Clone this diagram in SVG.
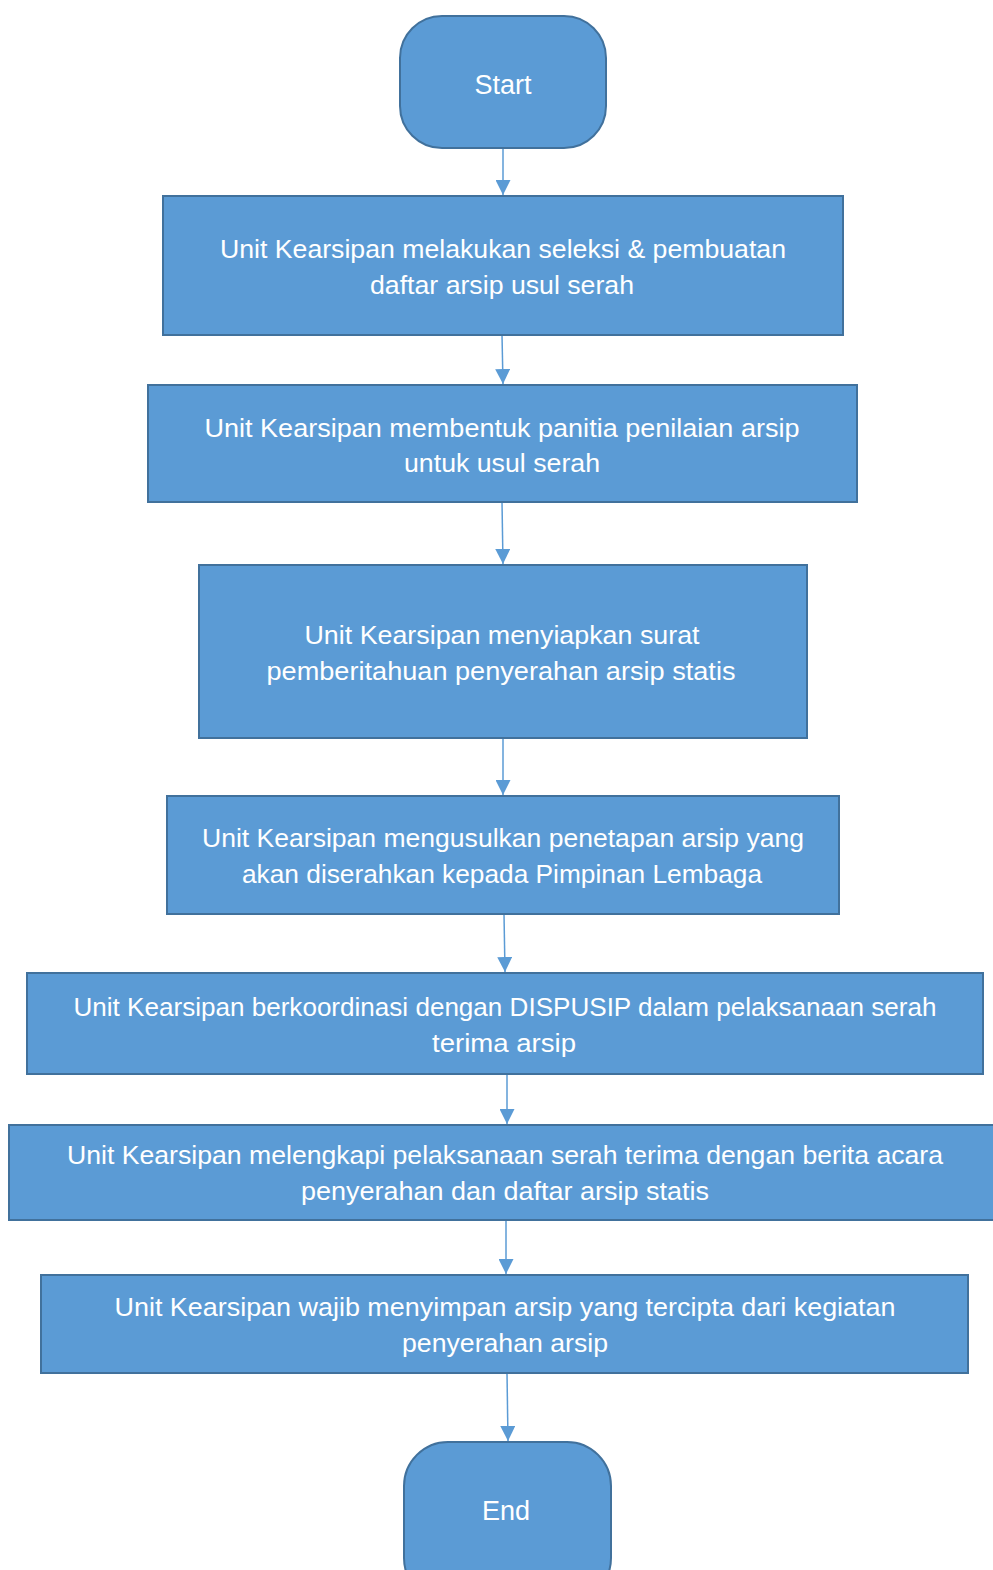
<svg xmlns="http://www.w3.org/2000/svg" width="993" height="1570" viewBox="0 0 993 1570">
<style>
.n{fill:#5B9BD5;stroke:#41719C;stroke-width:2}
.t{fill:#FFFFFF;font-family:"Liberation Sans",Arial,sans-serif;font-size:25px;text-anchor:middle}
.c{stroke:#5B9BD5;stroke-width:1.5;fill:none}
</style>
<defs>
<marker id="ah" viewBox="0 0 10 10" refX="10" refY="5" markerWidth="15" markerHeight="15" markerUnits="userSpaceOnUse" orient="auto">
<path d="M0,0 L10,5 L0,10 Z" fill="#5B9BD5"/>
</marker>
</defs>
<rect width="993" height="1570" fill="#FFFFFF"/>
<g id="connectors">
<line class="c" x1="503" y1="148" x2="503" y2="195" marker-end="url(#ah)"/>
<line class="c" x1="502" y1="335" x2="503" y2="384" marker-end="url(#ah)"/>
<line class="c" x1="502" y1="502" x2="503" y2="564" marker-end="url(#ah)"/>
<line class="c" x1="503" y1="738" x2="503" y2="795" marker-end="url(#ah)"/>
<line class="c" x1="504" y1="914" x2="505" y2="972" marker-end="url(#ah)"/>
<line class="c" x1="507" y1="1074" x2="507" y2="1124" marker-end="url(#ah)"/>
<line class="c" x1="506" y1="1220" x2="506" y2="1274" marker-end="url(#ah)"/>
<line class="c" x1="507" y1="1373" x2="508" y2="1441" marker-end="url(#ah)"/>
</g>
<g id="start">
<rect class="n" x="400" y="16" width="206" height="132" rx="42" ry="42"/>
<text class="t" x="503" y="94" style="font-size:27px">Start</text>
</g>
<g id="step1">
<rect class="n" x="163" y="196" width="680" height="139"/>
<text class="t" x="503" y="258" textLength="566" lengthAdjust="spacingAndGlyphs">Unit Kearsipan melakukan seleksi &amp; pembuatan</text>
<text class="t" x="502" y="294" textLength="264" lengthAdjust="spacingAndGlyphs">daftar arsip usul serah</text>
</g>
<g id="step2">
<rect class="n" x="148" y="385" width="709" height="117"/>
<text class="t" x="502" y="437" textLength="595" lengthAdjust="spacingAndGlyphs">Unit Kearsipan membentuk panitia penilaian arsip</text>
<text class="t" x="502" y="472" textLength="196" lengthAdjust="spacingAndGlyphs">untuk usul serah</text>
</g>
<g id="step3">
<rect class="n" x="199" y="565" width="608" height="173"/>
<text class="t" x="502" y="644" textLength="395" lengthAdjust="spacingAndGlyphs">Unit Kearsipan menyiapkan surat</text>
<text class="t" x="501" y="680" textLength="469" lengthAdjust="spacingAndGlyphs">pemberitahuan penyerahan arsip statis</text>
</g>
<g id="step4">
<rect class="n" x="167" y="796" width="672" height="118"/>
<text class="t" x="503" y="847" textLength="602" lengthAdjust="spacingAndGlyphs">Unit Kearsipan mengusulkan penetapan arsip yang</text>
<text class="t" x="502" y="883" textLength="520" lengthAdjust="spacingAndGlyphs">akan diserahkan kepada Pimpinan Lembaga</text>
</g>
<g id="step5">
<rect class="n" x="27" y="973" width="956" height="101"/>
<text class="t" x="505" y="1016" textLength="863" lengthAdjust="spacingAndGlyphs">Unit Kearsipan berkoordinasi dengan DISPUSIP dalam pelaksanaan serah</text>
<text class="t" x="504" y="1052" textLength="144" lengthAdjust="spacingAndGlyphs">terima arsip</text>
</g>
<g id="step6">
<rect class="n" x="9" y="1125" width="990" height="95"/>
<text class="t" x="505" y="1164" textLength="876" lengthAdjust="spacingAndGlyphs">Unit Kearsipan melengkapi pelaksanaan serah terima dengan berita acara</text>
<text class="t" x="505" y="1200" textLength="408" lengthAdjust="spacingAndGlyphs">penyerahan dan daftar arsip statis</text>
</g>
<g id="step7">
<rect class="n" x="41" y="1275" width="927" height="98"/>
<text class="t" x="505" y="1316" textLength="781" lengthAdjust="spacingAndGlyphs">Unit Kearsipan wajib menyimpan arsip yang tercipta dari kegiatan</text>
<text class="t" x="505" y="1352" textLength="206" lengthAdjust="spacingAndGlyphs">penyerahan arsip</text>
</g>
<g id="end">
<rect class="n" x="404" y="1442" width="207" height="160" rx="44" ry="44"/>
<text class="t" x="506" y="1520" style="font-size:27px">End</text>
</g>
</svg>
